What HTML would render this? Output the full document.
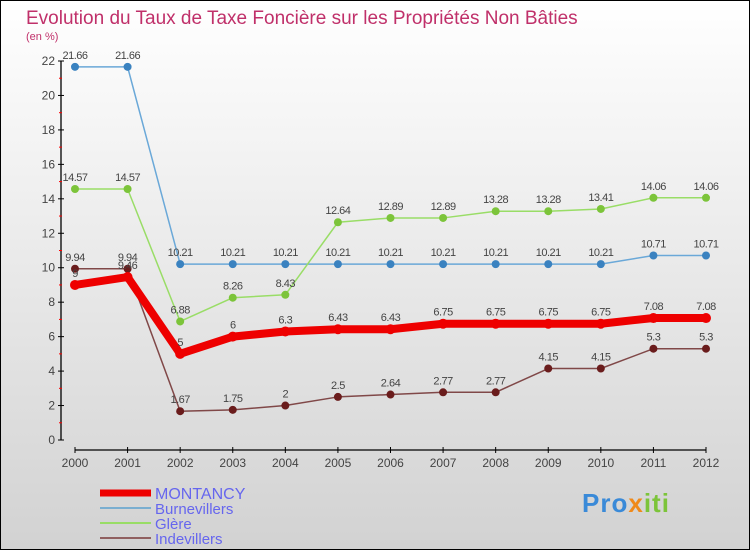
<!DOCTYPE html>
<html><head><meta charset="utf-8"><style>
body{margin:0}
svg text{font-family:"Liberation Sans",sans-serif}
</style></head><body>
<svg width="750" height="550" xmlns="http://www.w3.org/2000/svg">
<defs><linearGradient id="bg" x1="0" y1="0" x2="0" y2="1"><stop offset="0" stop-color="#ffffff"/><stop offset="1" stop-color="#d2d2d2"/></linearGradient></defs>
<rect x="0.5" y="0.5" width="749" height="549" fill="url(#bg)" stroke="#000"/>
<text x="26" y="24" font-size="19" fill="#c0306a">Evolution du Taux de Taxe Foncière sur les Propriétés Non Bâties</text>
<text x="26" y="40" font-size="11" fill="#c0306a">(en %)</text>
<g id="axes"></g>
<g id="series"></g>
<g id="legend"></g>
</svg>
<script>
const years=["2000","2001","2002","2003","2004","2005","2006","2007","2008","2009","2010","2011","2012"];
const yTicks=[0,2,4,6,8,10,12,14,16,18,20,22];
const montancy=[9,9.46,5,6,6.3,6.43,6.43,6.75,6.75,6.75,6.75,7.08,7.08];
const burnevillers=[21.66,21.66,10.21,10.21,10.21,10.21,10.21,10.21,10.21,10.21,10.21,10.71,10.71];
const glere=[14.57,14.57,6.88,8.26,8.43,12.64,12.89,12.89,13.28,13.28,13.41,14.06,14.06];
const indevillers=[9.94,9.94,1.67,1.75,2,2.5,2.64,2.77,2.77,4.15,4.15,5.3,5.3];
const NS="http://www.w3.org/2000/svg";
const X=i=>75+i*(706-75)/(years.length-1);
const Y=v=>440-v*(379/22);
function mk(t,a,p){const e=document.createElementNS(NS,t);for(const k in a)e.setAttribute(k,a[k]);p.appendChild(e);return e;}
const ax=document.getElementById('axes');
mk('line',{x1:61,y1:Y(22),x2:61,y2:440,stroke:'#000','stroke-width':1.3},ax);
yTicks.forEach(v=>{mk('line',{x1:58,y1:Y(v),x2:64,y2:Y(v),stroke:'#000'},ax);
 if(v<22)mk('line',{x1:59,y1:Y(v+1),x2:62,y2:Y(v+1),stroke:'#f00'},ax);
 const t=mk('text',{x:55,y:Y(v)+4,'font-size':12,fill:'#444','text-anchor':'end'},ax);t.textContent=v;
 });
mk('line',{x1:75,y1:450,x2:706,y2:450,stroke:'#000','stroke-width':1.3},ax);
years.forEach((y,i)=>{mk('line',{x1:X(i),y1:447,x2:X(i),y2:453,stroke:'#000'},ax);
 const t=mk('text',{x:X(i),y:467,'font-size':12,fill:'#444','text-anchor':'middle'},ax);t.textContent=y;
 });
const sg=document.getElementById('series');
function series(name,data,color,w,r,dot,labels){
 const g=mk('g',{},sg);
 mk('polyline',{points:data.map((v,i)=>X(i)+','+Y(v)).join(' '),fill:'none',stroke:color,'stroke-width':w,'stroke-linejoin':'round'},g);
 data.forEach((v,i)=>{const c=mk('circle',{cx:X(i),cy:Y(v),r:r,fill:dot},g);
  
  if(labels){const t=mk('text',{x:X(i),y:Y(v)-8,'font-size':11,fill:'#444','text-anchor':'middle','letter-spacing':'-0.5'},g);t.textContent=String(v);
  }});
}
series('burnevillers',burnevillers,'#6aa8d8',1.5,4,'#3a82c0',true);
series('glere',glere,'#99dd66',1.5,4,'#7cc43a',true);
series('indevillers',indevillers,'#804848',1.5,4,'#6a1c1c',true);
series('montancy',montancy,'#ee0000',8,5,'#ee0000',true);
const lg=document.getElementById('legend');
const leg=[["MONTANCY","#ee0000",7],["Burnevillers","#7aaed0",2],["Glère","#99dd66",2],["Indevillers","#906060",2]];
leg.forEach((l,i)=>{const y=493+i*15;const g=mk('g',{},lg);
 
 mk('line',{x1:100,y1:y,x2:151,y2:y,stroke:l[1],'stroke-width':l[2]},g);
 const t=mk('text',{x:155,y:y+6,'font-size':i==0?16:15,fill:'#6666ee'},g);t.textContent=l[0];});
</script>
<div style="position:absolute;left:582px;top:488px;font:bold 26px 'Liberation Sans',sans-serif;letter-spacing:1px"><span style="color:#3a8ad8">Pro</span><span style="color:#f08a1a">x</span><span style="color:#7cc43a">iti</span></div>
</body></html>
